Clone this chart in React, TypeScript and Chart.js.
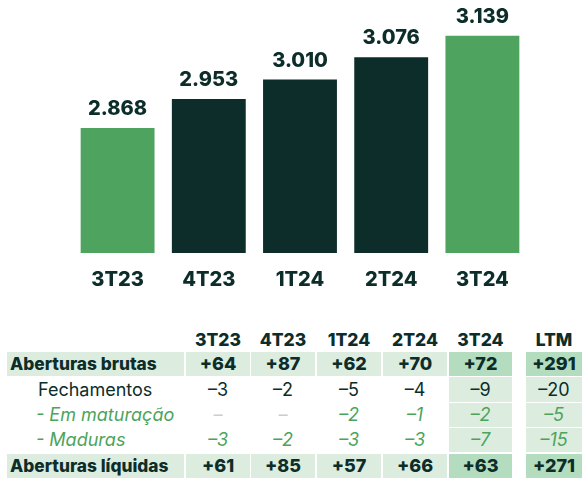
import React, { useEffect, useRef } from "react";
import { Chart, registerables } from "chart.js";

Chart.register(...registerables);

const categories = ["3T23", "4T23", "1T24", "2T24", "3T24"];
const stores = [2868, 2953, 3010, 3076, 3139];
const storeLabels = ["2.868", "2.953", "3.010", "3.076", "3.139"];
const highlight = [true, false, false, false, true];

const tableColumns = ["3T23", "4T23", "1T24", "2T24", "3T24", "LTM"];
const rowLabels = ["Aberturas brutas", "Fechamentos", "- Em maturação", "- Maduras", "Aberturas líquidas"];
const grossOpenings = ["+64", "+87", "+62", "+70", "+72", "+291"];
const closures = ["–3", "–2", "–5", "–4", "–9", "–20"];
const maturingClosures = ["–", "–", "–2", "–1", "–2", "–5"];
const matureClosures = ["–3", "–2", "–3", "–3", "–7", "–15"];
const netOpenings = ["+61", "+85", "+57", "+66", "+63", "+271"];

const DARK = "#0c2d29";
const GREEN = "#4ea35e";
const LIGHT_BAND = "#dcede0";
const STRONG_BAND = "#b4dcbe";
const ITALIC_GREEN = "#4ca45c";
const FONT = "Inter, 'DejaVu Sans', sans-serif";

const colX: [number, number][] = [
  [186, 250],
  [251, 315],
  [317, 381],
  [383, 447],
  [449, 512],
  [526, 582],
];
const rowY: [number, number][] = [
  [352, 376],
  [377, 402],
  [403, 427],
  [428, 452],
  [454, 478],
];

function BarChart() {
  const ref = useRef<HTMLCanvasElement | null>(null);
  useEffect(() => {
    if (!ref.current) return;
    const labelPlugin = {
      id: "labels",
      afterDatasetsDraw(chart: any) {
        const ctx = chart.ctx;
        const meta = chart.getDatasetMeta(0);
        ctx.save();
        ctx.fillStyle = DARK;
        ctx.textAlign = "center";
        ctx.textBaseline = "middle";
        ctx.font = `800 20px ${FONT}`;
        meta.data.forEach((bar: any, i: number) => {
          ctx.fillText(storeLabels[i], bar.x, bar.y - 19);
          ctx.fillText(categories[i], bar.x, chart.chartArea.bottom + 27);
        });
        ctx.restore();
      },
    };
    const chart = new Chart(ref.current, {
      type: "bar",
      data: {
        labels: categories,
        datasets: [
          {
            data: stores,
            backgroundColor: highlight.map((h) => (h ? GREEN : DARK)),
            categoryPercentage: 1,
            barPercentage: 0.81,
          },
        ],
      },
      options: {
        responsive: false,
        animation: false,
        layout: { padding: { left: 72, right: 54, top: 15, bottom: 47 } },
        plugins: { legend: { display: false }, tooltip: { enabled: false } },
        scales: {
          x: { display: false },
          y: { display: false, min: 2500, max: 3200 },
        },
      },
      plugins: [labelPlugin],
    });
    return () => chart.destroy();
  }, []);
  return (
    <canvas
      ref={ref}
      width={582}
      height={300}
      style={{ position: "absolute", left: 0, top: 0, width: 582, height: 300 }}
    />
  );
}

function Table() {
  const rows = [grossOpenings, closures, maturingClosures, matureClosures, netOpenings];
  const cells: React.ReactNode[] = [];
  tableColumns.forEach((c, j) => {
    cells.push(
      <div
        key={"h" + j}
        style={{
          position: "absolute",
          left: colX[j][0],
          width: colX[j][1] - colX[j][0],
          top: 328,
          height: 24,
          lineHeight: "24px",
          textAlign: "center",
          fontWeight: 800,
          fontSize: 17.5,
          color: DARK,
        }}
      >
        {c}
      </div>
    );
  });
  rows.forEach((vals, i) => {
    const bold = i === 0 || i === 4;
    const italic = i === 2 || i === 3;
    const [y0, y1] = rowY[i];
    cells.push(
      <div
        key={"l" + i}
        style={{
          position: "absolute",
          left: 7,
          width: 177,
          top: y0,
          height: y1 - y0,
          lineHeight: `${y1 - y0}px`,
          background: bold ? LIGHT_BAND : "transparent",
          paddingLeft: bold ? 3 : i === 1 ? 31 : 29,
          boxSizing: "border-box",
          fontWeight: bold ? 800 : 400,
          fontStyle: italic ? "italic" : "normal",
          fontSize: bold ? 17.3 : 18,
          color: italic ? ITALIC_GREEN : DARK,
          whiteSpace: "nowrap",
        }}
      >
        {rowLabels[i]}
      </div>
    );
    vals.forEach((v, j) => {
      const hl = j >= 4;
      const bg = bold ? (hl ? STRONG_BAND : LIGHT_BAND) : hl ? LIGHT_BAND : "transparent";
      const placeholder = v === "–";
      cells.push(
        <div
          key={"c" + i + "_" + j}
          style={{
            position: "absolute",
            left: colX[j][0],
            width: colX[j][1] - colX[j][0],
            top: y0,
            height: y1 - y0,
            lineHeight: `${y1 - y0}px`,
            background: bg,
            textAlign: "center",
            fontWeight: bold ? 800 : 400,
            fontStyle: italic ? "italic" : "normal",
            fontSize: 18,
            color: placeholder ? "#c9d0cc" : italic ? ITALIC_GREEN : DARK,
          }}
        >
          {v}
        </div>
      );
    });
  });
  return <>{cells}</>;
}

export default function App() {
  useEffect(() => {
    document.body.style.margin = "0";
    document.body.style.background = "#ffffff";
  }, []);
  return (
    <div
      style={{
        position: "relative",
        width: 582,
        height: 478,
        overflow: "hidden",
        fontFamily: FONT,
        background: "#ffffff",
      }}
    >
      <BarChart />
      <Table />
    </div>
  );
}
